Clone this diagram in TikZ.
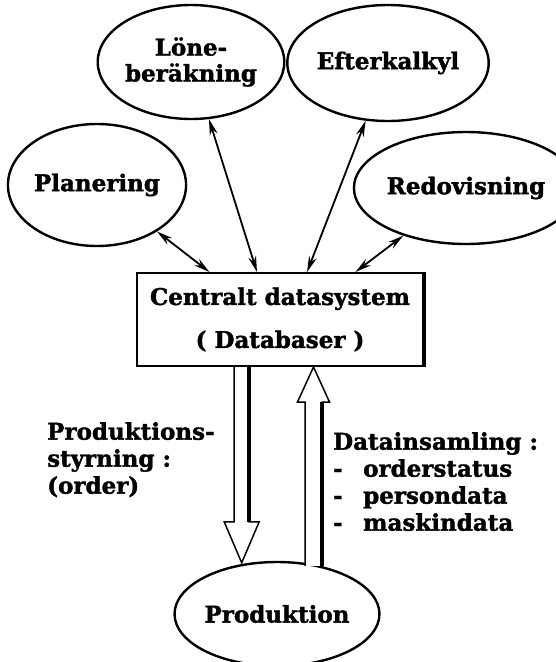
\documentclass[tikz,border=0pt]{standalone}
\usepackage{fontspec}
\setmainfont[BoldFeatures={FakeBold=1.6}]{DejaVu Serif}
\usetikzlibrary{positioning,shapes.geometric,calc,arrows.meta}

\tikzset{
  bubble/.style={ellipse, draw, line width=2.4pt, inner sep=0pt, align=center,
    font=\bfseries\fontsize{23}{26}\selectfont},
  biarrow/.style={line width=1.8pt, {Stealth[length=16pt,width=8pt]}-{Stealth[length=16pt,width=8pt]}},
  hollow/.style={draw, line width=1.5pt, line join=miter, fill=white},
  lbl/.style={inner sep=0pt, align=left, font=\bfseries\fontsize{23}{27}\selectfont},
}

\begin{document}
\begin{tikzpicture}[x=1pt,y=-1pt]
\useasboundingbox (0,0) rectangle (555,662);

% Outer ellipses
\node[bubble, minimum width=176pt, minimum height=114pt] (lone)  at (191,62)  {Löne-\\beräkning};
\node[bubble, minimum width=174pt, minimum height=116pt] (efter) at (388,63)  {Efterkalkyl};
\node[bubble, minimum width=170pt, minimum height=122pt] (plan)  at (97,185)  {Planering};
\node[bubble, minimum width=180pt, minimum height=112pt] (redo)  at (466,188) {Redovisning};

% Central box
\node[draw, line width=2pt, minimum width=286pt, minimum height=93pt, inner sep=0pt, align=center,
      font=\bfseries\fontsize{23}{43}\selectfont] (db) at (280,319.5) {Centralt datasystem\\( Databaser )};
\draw[line width=4pt] (db.north east) -- (db.south east);

% Production
\node[bubble, minimum width=174pt, minimum height=104pt] (prod) at (277,614) {Produktion};

% Arrows to the box
\coordinate (dbA) at ($(db.north west)!0.255!(db.north east)$);
\coordinate (dbB) at ($(db.north west)!0.42!(db.north east)$);
\coordinate (dbC) at ($(db.north west)!0.594!(db.north east)$);
\coordinate (dbD) at ($(db.north west)!0.762!(db.north east)$);
\draw[biarrow] (plan)  -- (dbA);
\draw[biarrow] (lone)  -- (dbB);
\draw[biarrow] (efter) -- (dbC);
\draw[biarrow] (redo)  -- (dbD);

% Hollow arrow down
\coordinate (dnTop) at ($(db.south west)!0.367!(db.south east)$);
\coordinate (dnTip) at ($(dnTop |- prod.north)+(0,2)$);
\draw[hollow] ($(dnTop)+(-7.5,0)$) -- ($(dnTip)+(-7.5,-41)$) -- ($(dnTip)+(-17.5,-41)$) -- (dnTip)
  -- ($(dnTip)+(17.5,-41)$) -- ($(dnTip)+(7.5,-41)$) -- ($(dnTop)+(7.5,0)$);
\draw[line width=3.5pt] ($(dnTop)+(7.5,0)$) -- ($(dnTip)+(7.5,-41)$);

% Hollow arrow up
\coordinate (upBot) at ($(prod.north)+(36.5,5)$);
\coordinate (upTip) at (upBot |- db.south);
\draw[hollow] ($(upBot)+(-8.5,0)$) -- ($(upTip)+(-8.5,35)$) -- ($(upTip)+(-16,35)$) -- (upTip)
  -- ($(upTip)+(16,35)$) -- ($(upTip)+(8.5,35)$) -- ($(upBot)+(8.5,0)$);
\draw[line width=3.5pt] ($(upBot)+(8.5,0)$) -- ($(upTip)+(8.5,35)$);

% Labels
\node[lbl, anchor=north west] (styr) at (47,422) {Produktions-\\styrning :\\(order)};
\node[lbl, anchor=north west] (insaml) at (333,432)
  {Datainsamling :\\\makebox[30pt][l]{-}orderstatus\\\makebox[30pt][l]{-}persondata\\\makebox[30pt][l]{-}maskindata};
\end{tikzpicture}
\end{document}
